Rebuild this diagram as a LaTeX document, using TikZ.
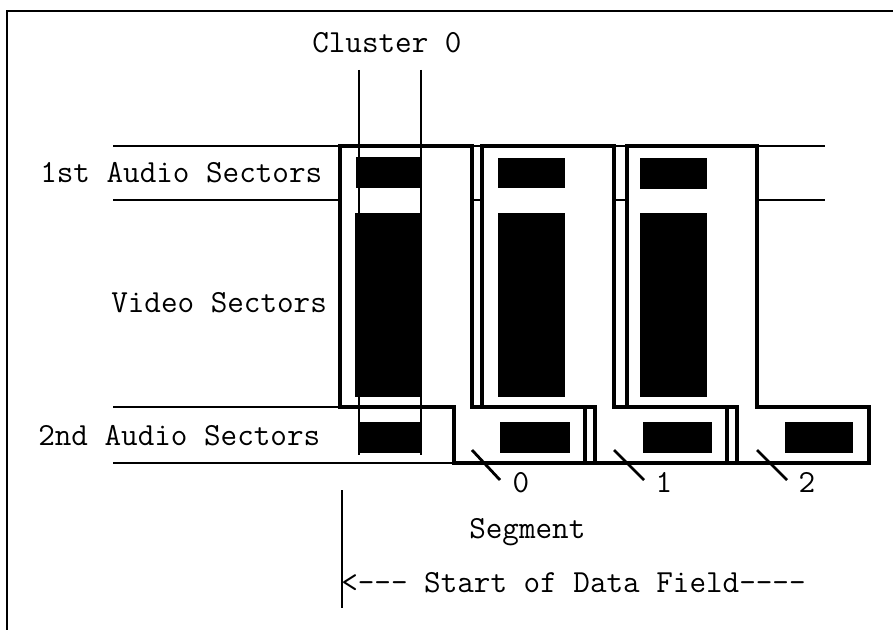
\documentclass[tikz,border=0pt]{standalone}
\begin{document}
\begin{tikzpicture}[x=0.025cm,y=-0.025cm,
	segbox/.style={line width=3.4pt,line join=miter},
	lane/.style={line width=1.3pt},
	blk/.style={fill=black},
	bound/.style={line width=1.6pt},
	tick/.style={line width=2pt},
	lbl/.style={inner sep=0pt,font=\ttfamily\fontsize{22.9}{26}\selectfont}
	]
	\useasboundingbox (0,0) rectangle (893,630);
	
	\draw[line width=1.2pt] (7,630) -- (7,11) -- (893,11);
	
	\draw[lane] (113,146) -- (825,146);
	\draw[lane] (113,200) -- (340,200);
	\draw[lane] (472,200) -- (482,200);
	\draw[lane] (614,200) -- (627,200);
	\draw[lane] (757,200) -- (825,200);
	\draw[lane] (113,407) -- (340,407);
	\draw[lane] (113,463) -- (869,463);
	
	\draw[segbox] (340,146) -- (472,146) -- (472,407) -- (595,407) -- (595,463)
	-- (454,463) -- (454,407) -- (340,407) -- cycle;
	\draw[segbox] (482,146) -- (614,146) -- (614,407) -- (737,407) -- (737,463)
	-- (585,463) -- (585,407) -- (482,407) -- cycle;
	\draw[segbox] (627,146) -- (757,146) -- (757,407) -- (869,407) -- (869,463)
	-- (727,463) -- (727,407) -- (627,407) -- cycle;
	
	\fill[blk] (356,157) rectangle (421,188);
	\fill[blk] (355,213) rectangle (422,397);
	\fill[blk] (358,422) rectangle (422,453);
	
	\fill[blk] (498,158) rectangle (565,188);
	\fill[blk] (498,213) rectangle (565,397);
	\fill[blk] (500,422) rectangle (570,453);
	
	\fill[blk] (640,158) rectangle (707,189);
	\fill[blk] (640,213) rectangle (707,397);
	\fill[blk] (643,422) rectangle (712,453);
	
	\fill[blk] (785,422) rectangle (853,453);
	
	\node[lbl,anchor=base west] (clus) at (312,53) {Cluster 0};
	\draw[bound] (359,70) -- (359,455);
	\draw[bound] (421,70) -- (421,455);
	
	\node[lbl,anchor=base west] (audA) at (40,183) {1st Audio Sectors};
	\node[lbl,anchor=base west] (vid) at (111,312) {Video Sectors};
	\node[lbl,anchor=base west] (audB) at (38,445) {2nd Audio Sectors};
	
	\node[lbl,anchor=base] (num0) at (521,492) {0};
	\node[lbl,anchor=base] (num1) at (664,492) {1};
	\node[lbl,anchor=base] (num2) at (807,492) {2};
	\coordinate (t0a) at (472,450);
	\coordinate (t0b) at (500,480);
	\coordinate (t1a) at (614,450);
	\coordinate (t1b) at (644,480);
	\coordinate (t2a) at (757,450);
	\coordinate (t2b) at (787,480);
	\draw[tick] (t0a) -- (t0b);
	\draw[tick] (t1a) -- (t1b);
	\draw[tick] (t2a) -- (t2b);
	
	\node[lbl,anchor=base west] (seg) at (469,538) {Segment};
	
	\draw[line width=2pt] (342,490) -- (342,608);
	\node[lbl,anchor=base west] (start) at (341,592) {<--- Start of Data Field----};
\end{tikzpicture}
\end{document}
